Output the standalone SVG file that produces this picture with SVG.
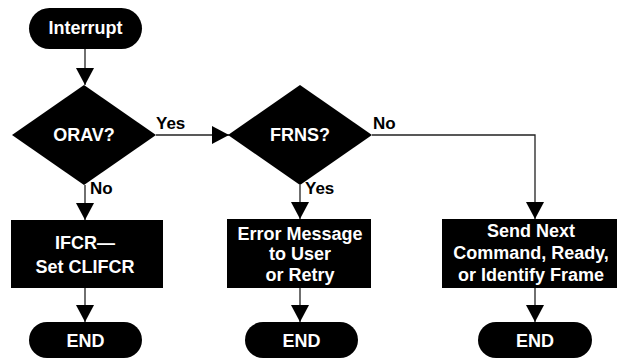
<svg xmlns="http://www.w3.org/2000/svg" width="621" height="359" viewBox="0 0 621 359">
<style>
.shape{fill:#000}
.t{fill:#fff;font-family:"Liberation Sans",Arial,sans-serif;font-weight:bold;font-size:18px;text-anchor:middle}
.lbl{fill:#000;font-family:"Liberation Sans",Arial,sans-serif;font-weight:bold;font-size:17px}
.c{fill:none;stroke:#222;stroke-width:1.3}
</style>
<defs>
<marker id="ah" markerUnits="userSpaceOnUse" markerWidth="18" markerHeight="20" refX="17" refY="10" orient="auto">
<path d="M0,1 L17,10 L0,19 z" fill="#000"/>
</marker>
</defs>
<rect width="621" height="359" fill="#fff"/>
<g id="connectors">
<path class="c" d="M85,49 V85" marker-end="url(#ah)"/>
<path class="c" d="M156,135 H229" marker-end="url(#ah)"/>
<path class="c" d="M372,135 H535 V219" marker-end="url(#ah)"/>
<path class="c" d="M85,185 V220" marker-end="url(#ah)"/>
<path class="c" d="M85,288 V322" marker-end="url(#ah)"/>
<path class="c" d="M300,185 V219" marker-end="url(#ah)"/>
<path class="c" d="M300,288 V322" marker-end="url(#ah)"/>
<path class="c" d="M535,288 V322" marker-end="url(#ah)"/>
<text class="lbl" x="156" y="129">Yes</text>
<text class="lbl" x="373" y="129">No</text>
<text class="lbl" x="90" y="194">No</text>
<text class="lbl" x="305" y="194">Yes</text>
</g>
<g id="interrupt">
<rect class="shape" x="29" y="8" width="113" height="41" rx="20.5"/>
<text class="t" x="85.5" y="34">Interrupt</text>
</g>
<g id="orav">
<polygon class="shape" points="84,85 156,135 84,185 12,135"/>
<text class="t" x="84" y="141">ORAV?</text>
</g>
<g id="frns">
<polygon class="shape" points="300,85 372,135 300,185 228,135"/>
<text class="t" x="300" y="141">FRNS?</text>
</g>
<g id="ifcr">
<rect class="shape" x="11" y="220" width="152" height="68"/>
<text class="t" x="85" y="249">IFCR—</text>
<text class="t" x="85" y="273">Set CLIFCR</text>
</g>
<g id="error">
<rect class="shape" x="227" y="219" width="144" height="69"/>
<text class="t" x="300" y="240">Error Message</text>
<text class="t" x="300" y="260">to User</text>
<text class="t" x="300" y="281">or Retry</text>
</g>
<g id="send">
<rect class="shape" x="442" y="219" width="175" height="69"/>
<text class="t" x="531" y="237">Send Next</text>
<text class="t" x="531" y="259">Command, Ready,</text>
<text class="t" x="531" y="281">or Identify Frame</text>
</g>
<g id="end1">
<rect class="shape" x="29" y="322" width="113" height="36" rx="18"/>
<text class="t" x="85.5" y="347">END</text>
</g>
<g id="end2">
<rect class="shape" x="245" y="322" width="113" height="36" rx="18"/>
<text class="t" x="301.5" y="347">END</text>
</g>
<g id="end3">
<rect class="shape" x="478" y="322" width="114" height="36" rx="18"/>
<text class="t" x="535" y="347">END</text>
</g>
</svg>
